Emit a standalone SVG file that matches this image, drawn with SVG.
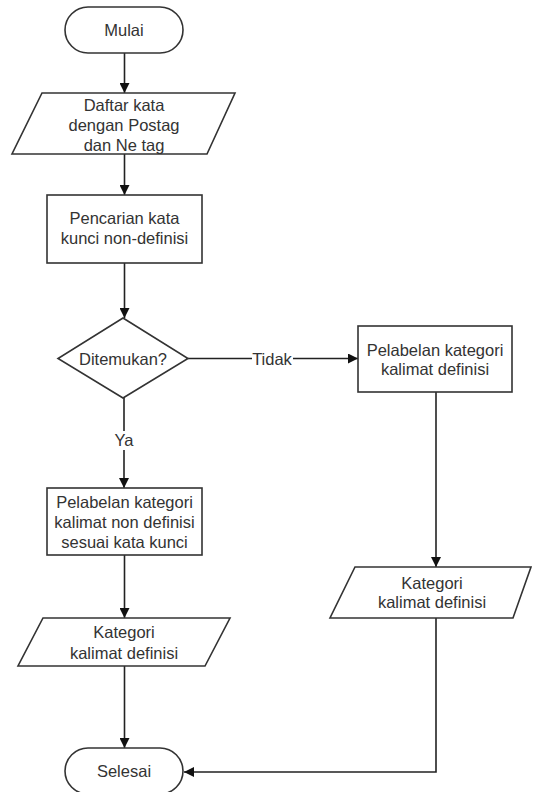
<svg xmlns="http://www.w3.org/2000/svg" width="533" height="792" viewBox="0 0 533 792">
<defs>
<marker id="arr" viewBox="0 0 10 10" refX="10" refY="5" markerWidth="10" markerHeight="10" markerUnits="userSpaceOnUse" orient="auto">
<path d="M0,0 L10,5 L0,10 z" fill="#111"/>
</marker>
<style>
.shape{fill:#fff;stroke:#333;stroke-width:1.6}
.t{font-family:"Liberation Sans",Arial,sans-serif;font-size:16.5px;fill:#333;text-anchor:middle;dominant-baseline:central}
.c{fill:none;stroke:#222;stroke-width:1.6}
</style>
</defs>
<rect width="533" height="792" fill="#fff"/>
<g id="connectors">
<line class="c" x1="124.5" y1="53" x2="124.5" y2="93" marker-end="url(#arr)"/>
<line class="c" x1="124.5" y1="154" x2="124.5" y2="195" marker-end="url(#arr)"/>
<line class="c" x1="124.5" y1="263" x2="124.5" y2="318" marker-end="url(#arr)"/>
<line class="c" x1="188" y1="358.5" x2="358" y2="358.5" marker-end="url(#arr)"/>
<rect x="252" y="350" width="41" height="18" fill="#fff"/>
<text class="t" x="272" y="358.5">Tidak</text>
<line class="c" x1="436" y1="392" x2="436" y2="567" marker-end="url(#arr)"/>
<line class="c" x1="124" y1="398" x2="124" y2="488" marker-end="url(#arr)"/>
<rect x="112" y="431" width="24" height="19" fill="#fff"/>
<text class="t" x="124" y="440">Ya</text>
<line class="c" x1="124.5" y1="555" x2="124.5" y2="618" marker-end="url(#arr)"/>
<line class="c" x1="124.5" y1="666" x2="124.5" y2="748" marker-end="url(#arr)"/>
<polyline class="c" points="436,618 436,772 184,772" marker-end="url(#arr)"/>
</g>
<g id="mulai">
<rect class="shape" x="65" y="7" width="118" height="46" rx="23" ry="23"/>
<text class="t" x="124" y="30">Mulai</text>
</g>
<g id="daftar">
<polygon class="shape" points="42,93 235,93 207,154 12,154"/>
<text class="t" x="124" y="105">Daftar kata</text>
<text class="t" x="124" y="125">dengan Postag</text>
<text class="t" x="124" y="145">dan Ne tag</text>
</g>
<g id="pencarian">
<rect class="shape" x="47" y="195" width="155" height="68"/>
<text class="t" x="124.5" y="218">Pencarian kata</text>
<text class="t" x="124.5" y="238">kunci non-definisi</text>
</g>
<g id="ditemukan">
<polygon class="shape" points="123,318 188,358.5 123,398 58,358.5"/>
<text class="t" x="123" y="358.5">Ditemukan?</text>
</g>
<g id="pelabelan-def">
<rect class="shape" x="358" y="326" width="154" height="66"/>
<text class="t" x="435" y="350">Pelabelan kategori</text>
<text class="t" x="435" y="369">kalimat definisi</text>
</g>
<g id="pelabelan-nondef">
<rect class="shape" x="47" y="488" width="155" height="67"/>
<text class="t" x="124.5" y="502">Pelabelan kategori</text>
<text class="t" x="124.5" y="522">kalimat non definisi</text>
<text class="t" x="124.5" y="542">sesuai kata kunci</text>
</g>
<g id="kategori-left">
<polygon class="shape" points="43,618 230,618 205,666 18,666"/>
<text class="t" x="124" y="632">Kategori</text>
<text class="t" x="124" y="653">kalimat definisi</text>
</g>
<g id="kategori-right">
<polygon class="shape" points="355,567 531,567 513,618 330,618"/>
<text class="t" x="432" y="583">Kategori</text>
<text class="t" x="432" y="602">kalimat definisi</text>
</g>
<g id="selesai">
<rect class="shape" x="65" y="748" width="118" height="46" rx="23" ry="23"/>
<text class="t" x="124" y="771">Selesai</text>
</g>
</svg>
